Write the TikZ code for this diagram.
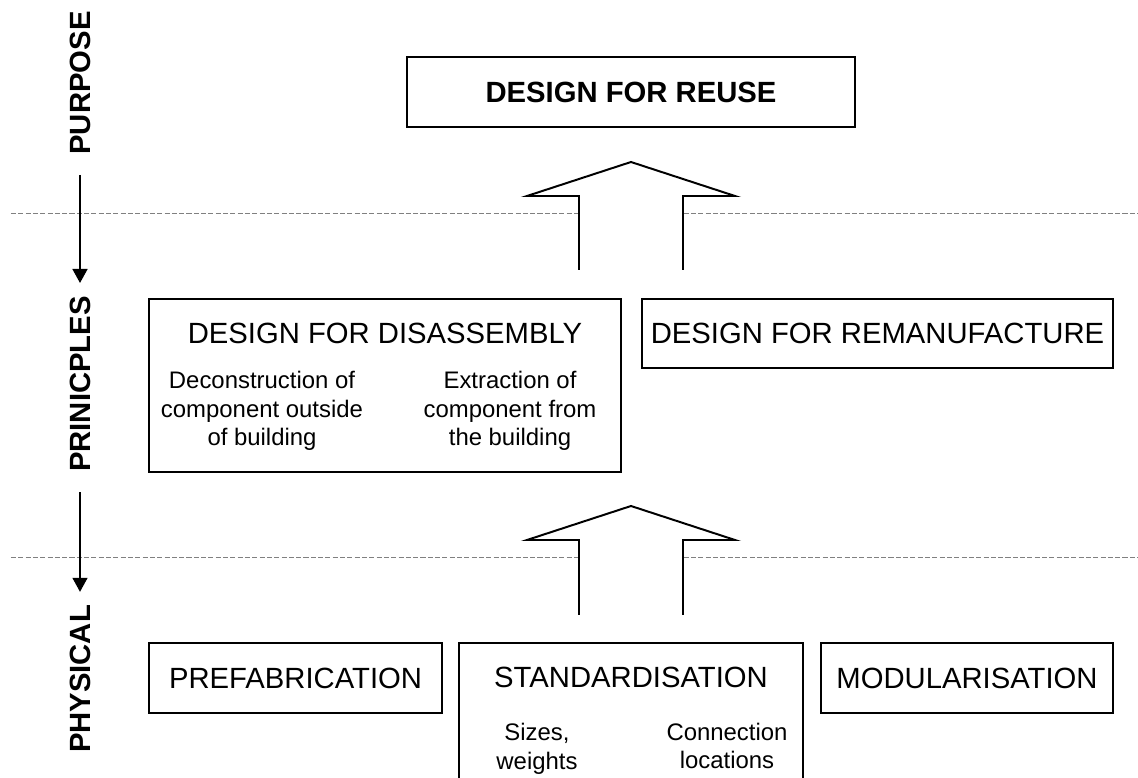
\documentclass[tikz,border=0pt]{standalone}
\usepackage{fontspec}
\setmainfont{Liberation Sans}
\usetikzlibrary{arrows.meta}
\tikzset{
  boxline/.style={line width=0.7pt},
  title/.style={font=\fontsize{10.4}{12}\selectfont},
  toptitle/.style={font=\bfseries\fontsize{10.4}{12}\selectfont},
  sub/.style={font=\fontsize{8.5}{10.2}\selectfont, align=center},
  level/.style={font=\bfseries\fontsize{10.4}{12}\selectfont, rotate=90, inner sep=0pt},
  levelline/.style={line width=0.7pt, -{Triangle[width=5.3pt,length=5pt]}, shorten <=7pt, shorten >=4.5pt},
  sepline/.style={gray, line width=0.35pt, dash pattern=on 1.8pt off 0.8pt},
  bigarrow/.style={line width=0.7pt, fill=white, line join=miter}
}

\begin{document}
\begin{tikzpicture}[x=0.0125cm, y=-0.0125cm]
  \useasboundingbox (0,0) rectangle (1138,778);

  % Separating lines
  \foreach \y in {213,557}
    \draw[sepline] (11,\y) -- (1138,\y);

  % Levels
  \node[level] (purpose)    at (80,83)  {PURPOSE};
  \node[level] (principles) at (80,384) {PRINICPLES};
  \node[level] (physical)   at (80,679) {PHYSICAL};
  \draw[levelline] (purpose) -- (principles);
  \draw[levelline] (principles) -- (physical);

  % Purpose
  \draw[boxline] (407,57) rectangle (855,127);
  \node[toptitle] (reuse) at (631,92) {DESIGN FOR REUSE};

  % Principles
  \draw[boxline] (149,299) rectangle (621,472);
  \node[title] (dfd) at (385,333) {DESIGN FOR DISASSEMBLY};
  \node[sub] (outside) at (262,411) {Deconstruction of\\component outside\\of building};
  \node[sub] (extract) at (510,411) {Extraction of\\component from\\the building};
  \draw[boxline] (642,299) rectangle (1113,368);
  \node[title] (dfr) at (877.5,333.5) {DESIGN FOR REMANUFACTURE};

  % Physical
  \draw[boxline] (149,643) rectangle (442,713);
  \node[title] (prefab) at (295.5,678) {PREFABRICATION};
  \draw[boxline] (459,778) |- (803,643) -- (803,778);
  \node[title] (std) at (631,677) {STANDARDISATION};
  \node[sub] (sizes) at (537,749) {Sizes,\\weights};
  \node[sub] (conn) at (727,746) {Connection\\locations};
  \draw[boxline] (821,643) rectangle (1113,713);
  \node[title] (modular) at (967,678) {MODULARISATION};

  % Block arrows
  \foreach \yb/\ys/\yt in {270/196/162, 615/540/506}
    \draw[bigarrow] (579,\yb) -- (579,\ys) -- (527,\ys) -- (631,\yt)
      -- (735,\ys) -- (683,\ys) -- (683,\yb);
\end{tikzpicture}
\end{document}
